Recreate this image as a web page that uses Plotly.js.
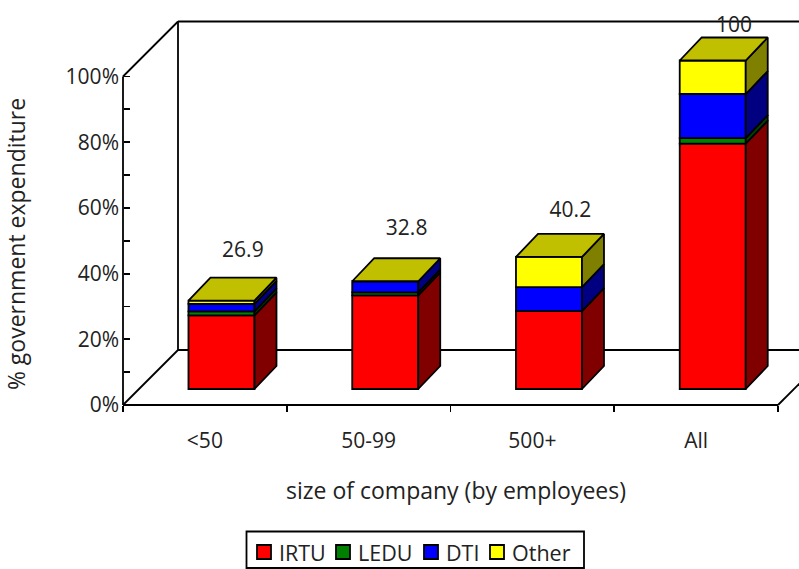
<!DOCTYPE html>
<html>
<head>
<meta charset="utf-8">
<script src="https://cdn.plot.ly/plotly-3.0.1.min.js"></script>
<style>html,body{margin:0;padding:0;background:#fff;overflow:hidden}</style>
</head>
<body>
<div id="chart" style="width:799px;height:569px"></div>
<script>
// Government expenditure by company size, stacked bars in a 3-D box look.
const categories = ['<50', '50-99', '500+', 'All'];
const irtu  = [22.4, 28.5, 23.7, 74.7];
const ledu  = [1.2, 0.9, 0, 1.7];
const dti   = [2.3, 3.4, 7.3, 13.4];
const other = [1.0, 0, 9.2, 10.2];
const totals = [26.9, 32.8, 40.2, 100];
const yTicks = [0, 20, 40, 60, 80, 100];
const yMinorTicks = [10, 30, 50, 70, 90];

const seriesList = [
  {name: 'IRTU',  values: irtu,  front: '#ff0000', side: '#800000'},
  {name: 'LEDU',  values: ledu,  front: '#008000', side: '#004000'},
  {name: 'DTI',   values: dti,   front: '#0000ff', side: '#000080'},
  {name: 'Other', values: other, front: '#ffff00', side: '#808000'}
];

// Scale of the two axes and the oblique projection used for depth.
const pxPerCat = 163.75, pxPerPct = 3.285;
const plotLeft = 113, plotTop = 18, plotBottom = 470, axisX = 123, axisY = 405;
const plotW = 799 - plotLeft, plotH = plotBottom - plotTop;
const catLeft = -0.5, catRight = 3.5;
const dx = px => px / pxPerCat, dy = px => px / pxPerPct;
const positions = categories.map((_, i) => i);
const boundaries = [-0.5, 0.5, 1.5, 2.5, 3.5];

const boxDepth = 55;        // depth of the floor and walls
const barInset = 16;        // how far the bars stand behind the front edge
const barDepthX = 22, barDepthY = 23;
const barWidth = 66 / pxPerCat;
const barOffset = dx(barInset + 0.6) - barWidth / 2;
const baseLift = dy(barInset);
const ink = '#000', lineW = 1.8;

const cumulative = seriesList.map((s, k) =>
  categories.map((_, i) => seriesList.slice(0, k).reduce((a, t) => a + t.values[i], 0)));

const traces = [];

// Front faces: the real stacked bars, raised onto the floor plane.
seriesList.forEach((s, k) => {
  traces.push({
    type: 'bar', name: s.name, x: positions, y: s.values,
    base: cumulative[k].map(v => v + baseLift),
    width: barWidth, offset: barOffset,
    marker: {color: s.front, line: {color: ink, width: lineW}},
    showlegend: false, hoverinfo: 'name+y'
  });
});

// Right-hand faces of each stacked segment.
seriesList.forEach((s, k) => {
  const xs = [], ys = [];
  positions.forEach(i => {
    if (s.values[i] <= 0) return;
    const xr = i + barOffset + barWidth;
    const lo = cumulative[k][i] + baseLift, hi = lo + s.values[i];
    xs.push(xr, xr + dx(barDepthX), xr + dx(barDepthX), xr, xr, null);
    ys.push(lo, lo + dy(barDepthY), hi + dy(barDepthY), hi, lo, null);
  });
  traces.push({
    type: 'scatter', mode: 'lines', x: xs, y: ys, fill: 'toself', fillcolor: s.side,
    line: {color: ink, width: lineW}, showlegend: false, hoverinfo: 'skip'
  });
});

// Top faces of the bars.
const topX = [], topY = [];
positions.forEach(i => {
  const xl = i + barOffset, xr = xl + barWidth, t = totals[i] + baseLift;
  topX.push(xl, xr, xr + dx(barDepthX), xl + dx(barDepthX), xl, null);
  topY.push(t, t, t + dy(barDepthY), t + dy(barDepthY), t, null);
});
traces.push({
  type: 'scatter', mode: 'lines', x: topX, y: topY, fill: 'toself', fillcolor: '#c0c000',
  line: {color: ink, width: lineW}, showlegend: false, hoverinfo: 'skip'
});

// Totals printed above each bar.
const labelLift = [49, 52, 45, 34];
traces.push({
  type: 'scatter', mode: 'text',
  x: positions.map(i => i + dx(barInset + barDepthX)),
  y: totals.map((t, i) => t + baseLift + dy(labelLift[i])),
  text: totals.map(String), textposition: 'middle center',
  textfont: {size: 21, color: '#222'}, cliponaxis: false,
  showlegend: false, hoverinfo: 'skip'
});

// Box outline: axes, floor edges and back wall, kept behind the bars.
const seg = (x0, y0, x1, y1) => ({
  type: 'line', layer: 'below', xref: 'x', yref: 'y', x0, y0, x1, y1,
  line: {color: ink, width: lineW}
});
const bx = dx(boxDepth), by = dy(boxDepth);
const shapes = [
  seg(catLeft, 0, catRight, 0),
  seg(catLeft, 0, catLeft, 100),
  seg(catLeft, 0, catLeft + bx, by),
  seg(catLeft, 100, catLeft + bx, 100 + by),
  seg(catRight, 0, catRight + bx, by),
  seg(catLeft + bx, by, catLeft + bx, 100 + by),
  seg(catLeft + bx, by, catRight + bx, by),
  seg(catLeft + bx, 100 + by, catRight + bx, 100 + by)
];

// Framed key under the chart, laid out in page pixels.
const paperX = px => (px - plotLeft) / plotW;
const paperY = py => (plotBottom - py) / plotH;
const annotations = [];
const keyRect = (x0, y0, x1, y1, fillcolor, width) => ({
  type: 'rect', layer: 'above', xref: 'paper', yref: 'paper',
  x0: paperX(x0), x1: paperX(x1), y0: paperY(y0), y1: paperY(y1),
  fillcolor, line: {color: ink, width}
});
shapes.push(keyRect(246.5, 531.5, 584, 568, '#fff', lineW));
const keySwatchX = [257, 336, 424, 490];
const keyTextX = [279, 358, 446, 512];
seriesList.forEach((s, k) => {
  shapes.push(keyRect(keySwatchX[k], 545, keySwatchX[k] + 14, 559, s.front, lineW));
  annotations.push({
    xref: 'paper', yref: 'paper', x: paperX(keyTextX[k]), y: paperY(552),
    xanchor: 'left', yanchor: 'middle', showarrow: false, xshift: -2,
    text: s.name, font: {size: 21.5, color: '#222'}
  });
});

const xStart = catLeft - (axisX - plotLeft) / pxPerCat;
const layout = {
  width: 799, height: 569,
  margin: {l: plotLeft, r: 0, t: plotTop, b: 569 - plotBottom, autoexpand: false},
  paper_bgcolor: '#fff', plot_bgcolor: 'rgba(0,0,0,0)',
  barmode: 'overlay', showlegend: false,
  font: {family: '"Open Sans", "Noto Sans", sans-serif', size: 21, color: '#222'},
  xaxis: {
    range: [xStart, xStart + plotW / pxPerCat],
    anchor: 'free', position: (plotBottom - axisY) / plotH,
    tickmode: 'array', tickvals: positions, ticktext: categories, ticks: '',
    ticklabelstandoff: 21,
    minor: {tickmode: 'array', tickvals: boundaries, ticks: 'outside', ticklen: 6, tickwidth: lineW, tickcolor: ink, showgrid: false},
    showgrid: false, showline: false, zeroline: false, automargin: false,
    tickfont: {size: 21},
    title: {text: 'size of company (by employees)', standoff: 29, font: {size: 23}}
  },
  yaxis: {
    range: [-(plotBottom - axisY) / pxPerPct, (axisY - plotTop) / pxPerPct],
    anchor: 'free', position: (axisX - plotLeft) / plotW,
    tickvals: yTicks, ticktext: yTicks.map(v => v + '%'),
    ticks: 'inside', ticklen: 6, tickwidth: lineW, tickcolor: ink, ticklabelstandoff: 4,
    minor: {tickvals: yMinorTicks, ticks: 'inside', ticklen: 6, tickwidth: lineW, tickcolor: ink, showgrid: false},
    showgrid: false, showline: false, zeroline: false, automargin: false,
    tickfont: {size: 21},
    title: {text: '% government expenditure', standoff: 34, font: {size: 23}}
  },
  shapes, annotations
};

Plotly.newPlot('chart', traces, layout, {displayModeBar: false, staticPlot: true});
</script>
</body>
</html>
